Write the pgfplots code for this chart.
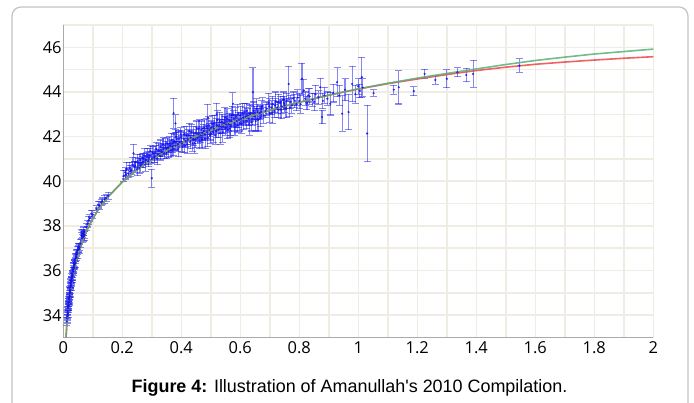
\documentclass[border=0pt]{standalone}
\usepackage{pgfplots}
\pgfplotsset{compat=1.18}
\usepackage{pgfplotstable}
\usepackage{fontspec}
\setmainfont{Liberation Sans}[Ligatures=TeXOff]
\newfontfamily\tickfont{Open Sans}
\definecolor{gridc}{RGB}{238,236,227}
\definecolor{axisc}{RGB}{170,170,170}
\definecolor{framec}{RGB}{195,195,195}
\definecolor{greenc}{RGB}{90,175,120}
\definecolor{redc}{RGB}{235,70,70}
\definecolor{ptc}{RGB}{20,20,235}

\pgfplotstableread{
z mu e
0.012 33.72 0.18
0.013 33.95 0.15
0.0135 33.85 0.20
0.014 34.05 0.20
0.0145 34.15 0.18
0.015 34.20 0.18
0.015 33.98 0.20
0.0155 34.05 0.15
0.016 34.35 0.15
0.016 34.10 0.20
0.0165 34.40 0.20
0.017 34.45 0.15
0.017 34.30 0.20
0.0175 34.55 0.18
0.018 34.58 0.18
0.0185 34.40 0.20
0.019 34.70 0.15
0.019 34.45 0.20
0.0195 34.75 0.18
0.020 34.80 0.15
0.020 34.60 0.18
0.0205 34.70 0.20
0.021 34.95 0.15
0.0215 34.85 0.15
0.022 35.05 0.20
0.022 34.85 0.15
0.0225 35.10 0.18
0.023 35.15 0.18
0.0235 35.05 0.20
0.024 35.30 0.15
0.024 35.00 0.20
0.0245 35.25 0.15
0.025 35.35 0.15
0.0255 35.45 0.20
0.026 35.40 0.18
0.0265 35.30 0.18
0.027 35.55 0.15
0.0275 35.60 0.15
0.028 35.50 0.20
0.0285 35.55 0.20
0.029 35.70 0.15
0.0295 35.75 0.18
0.030 35.65 0.18
0.031 35.85 0.15
0.0315 35.75 0.20
0.032 35.80 0.20
0.033 36.00 0.15
0.0335 36.05 0.18
0.034 35.95 0.18
0.035 36.20 0.15
0.0355 36.10 0.20
0.036 36.15 0.20
0.037 36.30 0.15
0.0375 36.35 0.15
0.038 36.25 0.18
0.0395 36.30 0.20
0.040 36.45 0.15
0.041 36.35 0.20
0.042 36.55 0.15
0.043 36.60 0.18
0.044 36.70 0.18
0.045 36.60 0.15
0.046 36.80 0.15
0.047 36.75 0.20
0.048 36.90 0.18
0.050 36.95 0.15
0.051 37.05 0.18
0.052 37.00 0.20
0.054 36.95 0.20
0.055 37.05 0.15
0.058 37.20 0.18
0.062 37.55 0.15
0.063 37.65 0.20
0.064 37.45 0.18
0.066 37.65 0.15
0.067 37.50 0.18
0.068 37.55 0.20
0.069 37.75 0.20
0.070 37.70 0.15
0.071 37.55 0.20
0.072 37.60 0.15
0.078 37.95 0.15
0.082 38.10 0.15
0.086 38.25 0.18
0.090 38.35 0.15
0.095 38.55 0.15
0.100 38.50 0.18
0.112 38.75 0.15
0.118 38.95 0.15
0.122 38.90 0.18
0.128 39.05 0.15
0.132 39.10 0.15
0.140 39.20 0.18
0.145 39.25 0.15
0.152 39.35 0.15
0.205 40.25 0.25
0.210 40.40 0.20
0.212 40.30 0.20
0.215 40.55 0.30
0.220 40.35 0.20
0.225 40.60 0.25
0.228 40.45 0.25
0.230 40.50 0.20
0.235 40.75 0.30
0.238 41.25 0.40
0.240 40.65 0.25
0.243 40.70 0.20
0.245 40.85 0.20
0.250 40.55 0.30
0.252 40.90 0.30
0.255 40.80 0.20
0.258 40.60 0.25
0.260 40.95 0.25
0.262 40.70 0.30
0.265 40.80 0.20
0.268 41.05 0.20
0.270 40.85 0.25
0.272 41.00 0.25
0.275 41.15 0.30
0.278 40.75 0.30
0.280 40.95 0.20
0.283 41.10 0.20
0.285 41.20 0.25
0.288 40.90 0.25
0.290 41.05 0.30
0.293 41.15 0.30
0.295 41.35 0.25
0.300 40.14 0.40
0.300 41.00 0.20
0.302 41.30 0.25
0.305 41.25 0.30
0.308 41.05 0.20
0.310 41.10 0.25
0.312 41.30 0.30
0.315 41.45 0.30
0.318 41.00 0.25
0.320 41.20 0.20
0.322 41.40 0.30
0.325 41.35 0.25
0.328 41.15 0.20
0.330 41.55 0.30
0.332 41.40 0.25
0.335 41.30 0.20
0.338 41.65 0.30
0.340 41.45 0.25
0.342 41.25 0.25
0.345 41.60 0.30
0.348 41.50 0.30
0.350 41.25 0.25
0.352 41.70 0.25
0.355 41.50 0.20
0.358 41.35 0.30
0.360 41.70 0.30
0.362 41.60 0.25
0.365 41.40 0.30
0.368 41.85 0.30
0.370 41.55 0.25
0.372 41.45 0.30
0.374 43.05 0.67
0.375 41.80 0.35
0.378 41.75 0.35
0.380 41.60 0.20
0.380 42.59 0.40
0.382 42.00 0.30
0.385 41.90 0.30
0.388 41.65 0.30
0.390 41.45 0.35
0.392 41.90 0.35
0.395 41.75 0.25
0.398 42.10 0.30
0.400 41.95 0.30
0.402 41.70 0.35
0.405 41.55 0.25
0.408 41.90 0.30
0.410 42.10 0.35
0.412 41.60 0.30
0.415 41.80 0.30
0.418 42.05 0.40
0.420 41.65 0.40
0.422 41.85 0.30
0.425 42.05 0.25
0.428 42.25 0.35
0.430 41.75 0.30
0.432 41.95 0.30
0.435 42.20 0.35
0.438 41.70 0.35
0.440 41.90 0.30
0.442 42.15 0.30
0.445 41.70 0.45
0.448 41.90 0.40
0.450 42.15 0.30
0.452 42.35 0.35
0.455 41.95 0.25
0.458 42.10 0.30
0.460 42.35 0.40
0.462 41.80 0.35
0.465 42.05 0.30
0.468 42.30 0.40
0.470 41.85 0.35
0.472 42.15 0.30
0.475 42.25 0.30
0.478 42.40 0.35
0.480 42.10 0.25
0.482 41.90 0.45
0.485 42.45 0.35
0.488 42.20 0.30
0.490 41.95 0.40
0.490 42.85 0.60
0.492 42.50 0.40
0.495 42.30 0.30
0.498 42.05 0.35
0.500 42.15 0.30
0.502 42.40 0.30
0.505 42.55 0.40
0.508 42.20 0.45
0.510 42.35 0.25
0.512 42.60 0.35
0.515 42.05 0.40
0.518 42.25 0.30
0.520 42.50 0.30
0.520 43.00 0.50
0.522 42.75 0.40
0.525 42.30 0.35
0.528 42.45 0.30
0.530 42.70 0.40
0.532 42.15 0.50
0.535 42.45 0.30
0.538 42.65 0.35
0.540 42.20 0.45
0.542 42.45 0.30
0.545 42.60 0.30
0.548 42.85 0.45
0.550 42.40 0.35
0.552 42.55 0.35
0.555 42.80 0.45
0.558 42.30 0.40
0.560 42.55 0.30
0.562 42.75 0.30
0.565 42.35 0.40
0.568 42.50 0.45
0.570 42.70 0.30
0.572 42.95 0.40
0.575 43.47 0.50
0.578 42.80 0.35
0.580 42.60 0.35
0.582 42.45 0.40
0.585 42.90 0.40
0.588 42.70 0.30
0.590 42.50 0.30
0.592 43.00 0.45
0.595 42.75 0.35
0.598 42.60 0.35
0.600 42.95 0.40
0.602 42.80 0.30
0.605 42.60 0.45
0.608 43.05 0.45
0.610 42.85 0.30
0.612 42.65 0.35
0.615 43.10 0.40
0.618 42.90 0.40
0.620 42.70 0.35
0.622 43.15 0.35
0.625 42.95 0.30
0.628 42.80 0.30
0.630 42.55 0.50
0.632 43.00 0.45
0.635 43.05 0.35
0.638 42.65 0.40
0.640 42.80 0.30
0.643 43.99 1.10
0.645 43.15 0.40
0.648 43.05 0.30
0.650 42.90 0.35
0.652 42.70 0.45
0.655 43.25 0.45
0.658 43.10 0.35
0.660 42.75 0.50
0.665 43.05 0.30
0.668 42.85 0.40
0.670 43.10 0.30
0.672 43.25 0.35
0.675 43.35 0.40
0.680 42.95 0.35
0.685 43.15 0.30
0.690 43.25 0.30
0.695 43.50 0.45
0.698 43.35 0.35
0.700 43.05 0.40
0.705 43.30 0.30
0.708 43.05 0.45
0.710 43.45 0.35
0.715 43.15 0.30
0.718 43.40 0.30
0.720 43.60 0.40
0.725 43.30 0.25
0.728 43.55 0.35
0.730 43.20 0.35
0.735 43.50 0.30
0.738 43.20 0.40
0.740 43.35 0.30
0.745 43.65 0.35
0.748 43.50 0.30
0.750 43.40 0.30
0.755 43.25 0.40
0.758 43.60 0.35
0.764 44.36 0.80
0.768 43.30 0.40
0.770 43.55 0.30
0.775 43.40 0.35
0.780 43.70 0.30
0.785 43.60 0.30
0.790 43.45 0.30
0.795 43.75 0.35
0.800 43.60 0.35
0.805 43.45 0.40
0.809 44.59 0.70
0.815 44.07 0.50
0.820 43.70 0.30
0.826 43.50 0.30
0.830 43.85 0.30
0.835 43.80 0.35
0.845 43.65 0.30
0.850 43.55 0.40
0.855 43.90 0.40
0.865 43.75 0.30
0.871 44.21 0.40
0.877 42.88 0.30
0.880 43.60 0.35
0.885 43.85 0.35
0.895 43.70 0.30
0.905 43.47 0.50
0.915 43.95 0.40
0.928 44.44 0.65
0.935 43.85 0.45
0.945 43.03 0.80
0.955 44.10 0.50
0.967 43.10 0.80
0.979 44.36 0.80
0.990 43.90 0.40
1.000 44.25 0.35
1.005 44.05 0.30
1.012 44.66 0.90
1.015 44.20 0.40
1.030 42.14 1.26
1.052 43.95 0.15
1.120 44.10 0.20
1.137 44.21 0.75
1.188 44.04 0.20
1.225 44.81 0.20
1.261 44.54 0.20
1.300 44.59 0.40
1.336 44.88 0.20
1.366 44.76 0.30
1.389 44.81 0.60
1.546 45.18 0.30
}\snedata

\begin{document}
\begin{tikzpicture}
\useasboundingbox (0,0) rectangle (694bp,403bp);
\clip (0,0) rectangle (694bp,403bp);
\draw[framec, line width=1.2bp, rounded corners=9bp] (12bp,-20bp) -- (12bp,396bp) -- (688bp,396bp) -- (688bp,-20bp);
\begin{axis}[
  at={(63.3bp,65.5bp)}, anchor=south west,
  width=590bp, height=312.5bp, scale only axis,
  xmin=0, xmax=2, ymin=33, ymax=47,
  axis x line=bottom, axis y line=left,
  axis line style={-, draw=axisc, line width=1.5bp},
  xtick={0,0.2,0.4,0.6,0.8,1,1.2,1.4,1.6,1.8,2},
  xticklabels={0,0.2,0.4,0.6,0.8,1,1.2,1.4,1.6,1.8,2},
  minor xtick={0.1,0.3,0.5,0.7,0.9,1.1,1.3,1.5,1.7,1.9},
  ytick={34,36,38,40,42,44,46},
  minor ytick={33,35,37,39,41,43,45,47},
  grid=both,
  major grid style={gridc, line width=1.5bp},
  minor grid style={gridc, line width=1.5bp},
  major tick length=0pt, minor tick length=0pt,
  tick label style={font=\tickfont\fontsize{16.5}{18}\selectfont},
  /pgf/number format/assume math mode=true,
  yticklabel style={inner sep=1.5bp},
  xticklabel style={inner sep=4bp},
]
\addplot[only marks, mark=*, mark size=0.9bp, color=ptc,
  mark options={fill=ptc, draw=ptc, opacity=0.8},
  error bars/.cd, y dir=both, y explicit,
  error bar style={line width=1.1bp, color=ptc, opacity=0.5},
  error mark options={rotate=90, mark size=3.5bp, line width=1.1bp, color=ptc, opacity=0.5}]
  table[x=z, y=mu, y error=e] {\snedata};
\addplot[redc, line width=1.6bp, opacity=0.85] coordinates {
(0.0092,33.0) (0.01,33.176) (0.012,33.576) (0.015,34.065) (0.02,34.698) (0.025,35.19)
(0.03,35.596) (0.04,36.237) (0.05,36.739) (0.06,37.151) (0.07,37.502) (0.08,37.808)
(0.1,38.325) (0.12,38.754) (0.15,39.28) (0.2,39.966) (0.25,40.514) (0.3,40.97)
(0.35,41.36) (0.4,41.703) (0.45,42.008) (0.5,42.284) (0.55,42.535) (0.6,42.766)
(0.65,42.979) (0.7,43.177) (0.75,43.363) (0.8,43.536) (0.85,43.70) (0.9,43.855)
(0.95,43.995) (1.0,44.13) (1.1,44.37) (1.2,44.58) (1.3,44.78) (1.4,44.96)
(1.5,45.11) (1.6,45.24) (1.7,45.34) (1.8,45.43) (1.9,45.51) (2.0,45.58)};
\addplot[greenc, line width=1.6bp, opacity=0.85] coordinates {
(0.0092,33.0) (0.01,33.176) (0.012,33.576) (0.015,34.065) (0.02,34.698) (0.025,35.19)
(0.03,35.596) (0.04,36.237) (0.05,36.739) (0.06,37.151) (0.07,37.502) (0.08,37.808)
(0.1,38.325) (0.12,38.754) (0.15,39.28) (0.2,39.966) (0.25,40.514) (0.3,40.97)
(0.35,41.36) (0.4,41.703) (0.45,42.008) (0.5,42.284) (0.55,42.535) (0.6,42.766)
(0.65,42.979) (0.7,43.177) (0.75,43.363) (0.8,43.536) (0.85,43.70) (0.9,43.855)
(0.95,44.0) (1.0,44.14) (1.1,44.39) (1.2,44.62) (1.3,44.83) (1.4,45.03)
(1.5,45.23) (1.6,45.41) (1.7,45.56) (1.8,45.70) (1.9,45.81) (2.0,45.92)};
\end{axis}
\node[anchor=base] at (349.5bp,11bp) {\fontsize{18}{20}\selectfont\textbf{Figure 4:} Illustration of Amanullah's 2010 Compilation.};
\end{tikzpicture}
\end{document}
